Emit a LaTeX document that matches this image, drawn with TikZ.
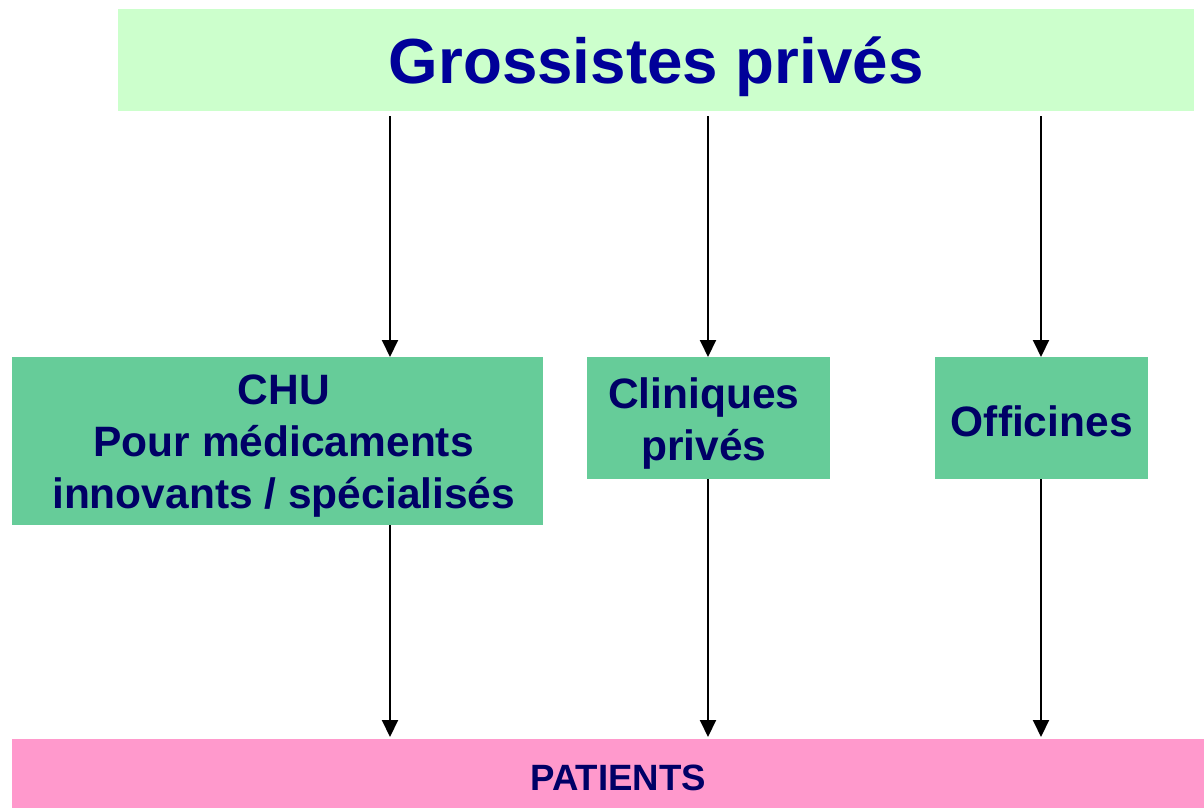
\documentclass[tikz,border=0pt]{standalone}
\usepackage{fontspec}
\setmainfont{Liberation Sans}
\usetikzlibrary{arrows.meta}
\definecolor{topfill}{HTML}{CCFFCC}
\definecolor{midfill}{HTML}{66CC99}
\definecolor{botfill}{HTML}{FF99CC}
\definecolor{titleblue}{HTML}{000099}
\definecolor{navy}{HTML}{000066}
\begin{document}
\begin{tikzpicture}[x=1pt,y=-1pt,
  box/.style={fill=#1, draw=none, inner sep=0pt, anchor=north west, align=center, font=\bfseries, text=navy},
  lbl/.style={inner sep=0pt, align=center, font=\bfseries, text=navy},
  flow/.style={line width=2pt, -{Triangle[width=16pt,length=17pt]}}]
\useasboundingbox (0,0) rectangle (1204,808);
\node[box=topfill, minimum width=1076pt, minimum height=102pt] (top) at (118,9) {};
\node[box=midfill, minimum width=531pt, minimum height=168pt] (chu) at (12,357) {};
\node[box=midfill, minimum width=243pt, minimum height=122pt] (cli) at (587,357) {};
\node[box=midfill, minimum width=213pt, minimum height=122pt] (off) at (935,357) {};
\node[box=botfill, minimum width=1192pt, minimum height=69pt] (pat) at (12,739) {};
\node[lbl, text=titleblue, font=\bfseries\fontsize{63.7}{70}\selectfont] (toplbl) at ([yshift=-7pt]top.center) {Grossistes privés};
\node[lbl, font=\bfseries\fontsize{42.5}{52}\selectfont] (chulbl) at ([xshift=6pt,yshift=-5pt]chu.center) {CHU\\Pour médicaments\\innovants / spécialisés};
\node[lbl, font=\bfseries\fontsize{42.5}{52}\selectfont] (clilbl) at ([xshift=-5pt,yshift=-5pt]cli.center) {Cliniques\\privés};
\node[lbl, font=\bfseries\fontsize{42.5}{52}\selectfont] (offlbl) at ([yshift=-3pt]off.center) {Officines};
\node[lbl, font=\bfseries\fontsize{36.6}{40}\selectfont] (patlbl) at ([xshift=10pt,yshift=-4pt]pat.center) {PATIENTS};
\coordinate (t1) at (390,116); \coordinate (t2) at (708,116); \coordinate (t3) at (1041,116);
\draw[flow] (t1) -- (t1 |- chu.north);
\draw[flow] (t2) -- (t2 |- cli.north);
\draw[flow] (t3) -- (t3 |- off.north);
\coordinate (b1) at (390,737); \coordinate (b2) at (708,737); \coordinate (b3) at (1041,737);
\draw[flow] (b1 |- chu.south) -- (b1);
\draw[flow] (b2 |- cli.south) -- (b2);
\draw[flow] (b3 |- off.south) -- (b3);
\end{tikzpicture}
\end{document}
